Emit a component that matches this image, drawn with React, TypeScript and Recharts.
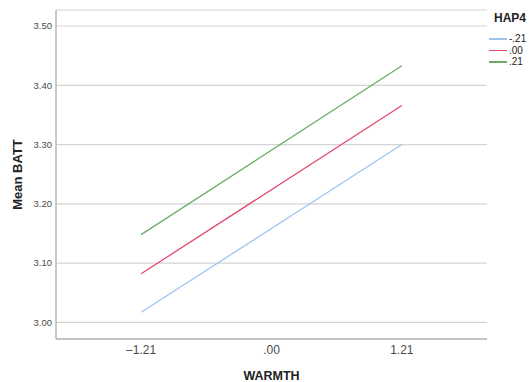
import { LineChart, Line, XAxis, YAxis, CartesianGrid, Legend } from "recharts";

// WARMTH at -1 SD / +1 SD
const warmth = [-1.21, 1.21];
const xTicks = [-1.21, 0, 1.21];
const xTickLabels: Record<string, string> = { "-1.21": "–1.21", "0": ".00", "1.21": "1.21" };
const yTicks = [3.0, 3.1, 3.2, 3.3, 3.4, 3.5];

// estimated mean BATT per HAP4 level
const hapLow = [3.017, 3.3];
const hapMid = [3.082, 3.366];
const hapHigh = [3.148, 3.433];

const series = [
  { key: "low", name: "-.21", color: "#9ec4f0" },
  { key: "mid", name: ".00", color: "#e24a6c" },
  { key: "high", name: ".21", color: "#6aac66" },
];

const data = warmth.map((w, i) => ({
  warmth: w,
  low: hapLow[i],
  mid: hapMid[i],
  high: hapHigh[i],
}));

const font = '"Liberation Sans", Arial, sans-serif';

function HapLegend() {
  return (
    <div style={{ fontFamily: font, color: "#222", textAlign: "left" }}>
      <div style={{ fontWeight: 700, fontSize: 12, lineHeight: "14px", marginBottom: 8, marginLeft: 5 }}>HAP4</div>
      {series.map(s => (
        <div key={s.key} style={{ display: "flex", alignItems: "center", height: 11.5, fontSize: 10 }}>
          <span style={{ display: "inline-block", width: 18, height: 1.5, background: s.color, marginRight: 2 }} />
          <span>{s.name}</span>
        </div>
      ))}
    </div>
  );
}

export default function App() {
  return (
    <div style={{ position: "absolute", left: 0, top: 0, background: "#fff" }}>
      <LineChart width={531} height={382} data={data} margin={{ top: 10, right: 44, bottom: 0, left: 0 }}>
        <CartesianGrid vertical={false} stroke="#d4d4d4" strokeWidth={1.2} />
        <XAxis
          dataKey="warmth"
          type="number"
          domain={[-2, 2]}
          ticks={xTicks}
          tickFormatter={(v: number) => xTickLabels[String(v)] ?? String(v)}
          tickSize={0}
          tickMargin={6}
          height={43}
          stroke="#b8b8b8"
          strokeWidth={1.5}
          tick={{ fontSize: 12, fill: "#4a4a4a", fontFamily: font }}
          label={{ value: "WARMTH", position: "insideBottom", offset: 2, style: { fontSize: 12.5, fontWeight: 700, fill: "#222", fontFamily: font } }}
        />
        <YAxis
          type="number"
          domain={[2.972, 3.527]}
          ticks={yTicks}
          tickFormatter={(v: number) => v.toFixed(2)}
          tickSize={0}
          tickMargin={4}
          width={56}
          stroke="#b8b8b8"
          strokeWidth={1.5}
          allowDataOverflow
          tick={{ fontSize: 9.5, fill: "#4a4a4a", fontFamily: font }}
          label={{ value: "Mean BATT", angle: -90, position: "insideLeft", offset: 17, style: { textAnchor: "middle", fontSize: 13, fontWeight: 700, fill: "#222", fontFamily: font } }}
        />
        {/* horizontal + middle + center keeps the legend from shrinking the plot */}
        <Legend
          layout="horizontal"
          verticalAlign="middle"
          align="center"
          content={() => <HapLegend />}
          wrapperStyle={{ position: "absolute", left: 489, top: 11, width: 42 }}
        />
        {series.map(s => (
          <Line
            key={s.key}
            dataKey={s.key}
            name={s.name}
            stroke={s.color}
            strokeWidth={1.3}
            dot={false}
            activeDot={false}
            isAnimationActive={false}
          />
        ))}
      </LineChart>
    </div>
  );
}
